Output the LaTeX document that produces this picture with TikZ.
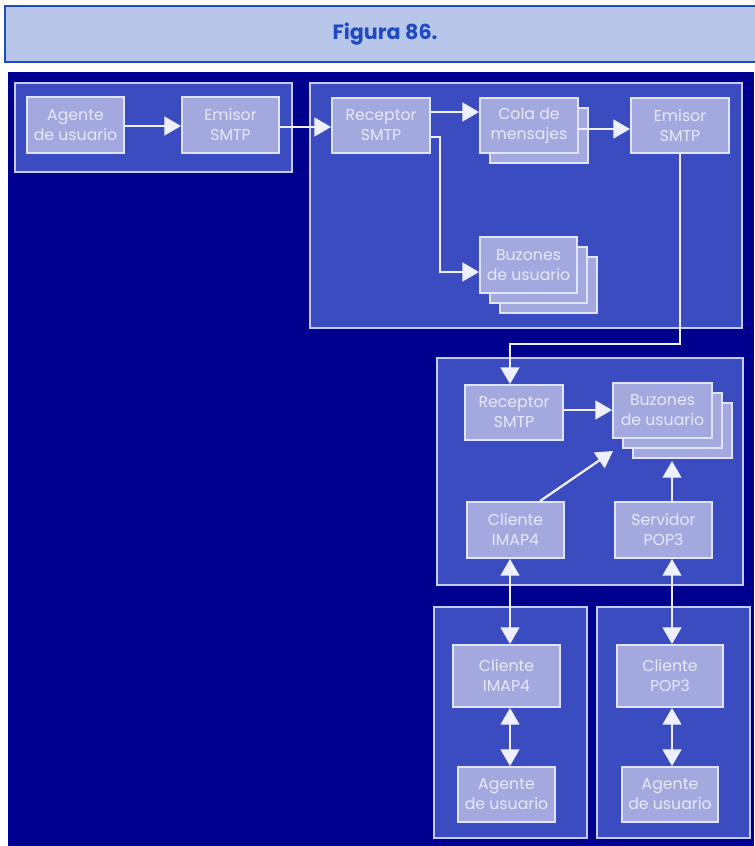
\documentclass[tikz,border=0pt]{standalone}
\usepackage{fontspec}
\setmainfont{Poppins}
\usetikzlibrary{arrows.meta,fit,positioning}
\definecolor{navy}{HTML}{00008E}
\definecolor{framefill}{HTML}{3B4BC0}
\definecolor{frameline}{HTML}{C4CAF2}
\definecolor{boxfill}{HTML}{A3A9DE}
\definecolor{boxline}{HTML}{E0E4FA}
\definecolor{txt}{HTML}{E6E9FB}
\definecolor{titlefill}{HTML}{B8C6EA}
\definecolor{titleline}{HTML}{1E4BC0}
\definecolor{arr}{HTML}{EEF0FF}
\begin{document}
\begin{tikzpicture}[x=0.75pt,y=-0.75pt,
  sz/.style 2 args={minimum width=#1*0.75pt,minimum height=#2*0.75pt},
  frame/.style={draw=frameline,fill=framefill,line width=1.6pt,inner sep=0pt},
  box/.style={draw=boxline,fill=boxfill,line width=1.4pt,inner sep=0pt,align=center,
    text=txt,font=\fontsize{11.8}{15}\selectfont},
  boxsh/.style={draw=boxline,fill=boxfill,line width=1.4pt},
  tip/.tip={Triangle[length=12.5pt,width=14pt]},
  conn/.style={draw=arr,line width=1.7pt,-tip},
  bidir/.style={draw=arr,line width=1.7pt,tip-tip},
  plain/.style={draw=arr,line width=1.7pt}]
\useasboundingbox (0,0) rectangle (754,846);
\fill[white] (0,0) rectangle (754,846);
% title bar
\node[draw=titleline,fill=titlefill,line width=2.2pt,inner sep=0pt,sz={760}{56},
  text=titleline,font=\fontsize{15.5}{18}\selectfont\bfseries] (title) at (385,34) {Figura 86.};
% navy background
\fill[navy] (8,72) rectangle (754,846);
% frames
\node[frame,fit={(15,83) (292,172)}] (f1) {};
\node[frame,fit={(310,83) (742,328)}] (f2) {};
\node[frame,fit={(437,358) (743,585)}] (f3) {};
\node[frame,fit={(434,607) (587,838)}] (f4) {};
\node[frame,fit={(597,607) (750,838)}] (f5) {};
% frame 1
\node[box,sz={97}{56}] (ag1) at (75.5,125) {Agente\\de usuario};
\node[box,sz={97}{56}] (em1) at (230.5,125) {Emisor\\SMTP};
% frame 2
\node[box,sz={98}{55}] (re2) at (381,125.5) {Receptor\\SMTP};
\draw[boxsh] (490,108) rectangle (588,163);
\node[box,sz={98}{55}] (cola) at (529,125.5) {Cola de\\mensajes};
\node[box,sz={98}{55}] (em2) at (680,125.5) {Emisor\\SMTP};
\draw[boxsh] (500,257) rectangle (597,313);
\draw[boxsh] (490,247) rectangle (587,303);
\node[box,sz={97}{56}] (bu2) at (528.5,265) {Buzones\\de usuario};
% frame 3
\node[box,sz={98}{55}] (re3) at (514,412.5) {Receptor\\SMTP};
\draw[boxsh] (633,403) rectangle (732,458);
\draw[boxsh] (623,393) rectangle (722,448);
\node[box,sz={99}{55}] (bu3) at (662.5,410.5) {Buzones\\de usuario};
\node[box,sz={97}{56}] (ci3) at (515.5,530) {Cliente\\IMAP4};
\node[box,sz={97}{56}] (sp3) at (663.5,530) {Servidor\\POP3};
% frame 4 and 5
\node[box,sz={107}{62}] (ci4) at (506.5,676) {Cliente\\IMAP4};
\node[box,sz={97}{55}] (ag4) at (506.5,794.5) {Agente\\de usuario};
\node[box,sz={106}{62}] (cp5) at (670,676) {Cliente\\POP3};
\node[box,sz={96}{55}] (ag5) at (670,794.5) {Agente\\de usuario};
% coordinates for routing
\coordinate (bend1) at (440,137);
\coordinate (bend2) at (440,272);
\coordinate (bend3) at (680,344);
\coordinate (bend4) at (510,344);
\coordinate (diagtip) at (613,451);
% connectors
\draw[conn] (ag1.east |- 0,126) -- (em1.west |- 0,126);
\draw[conn] (em1.east |- 0,127) -- (re2.west |- 0,127);
\draw[conn] (re2.east |- 0,112) -- (cola.west |- 0,112);
\draw[conn] (cola.east |- 0,129) -- (em2.west |- 0,129);
\draw[conn] (re2.east |- bend1) -- (bend1) -- (bend2) -- (bu2.west |- bend2);
\draw[conn] (em2.south -| bend3) -- (bend3) -- (bend4) -- (re3.north -| bend4);
\draw[conn] (re3.east |- 0,410) -- (bu3.west |- 0,410);
\draw[conn] (ci3.north -| 540,0) -- (diagtip);
\draw[conn] (sp3.north -| 672,0) -- (672,461);
\draw[bidir] (ci3.south -| 510,0) -- (ci4.north -| 510,0);
\draw[bidir] (sp3.south -| 672,0) -- (cp5.north -| 672,0);
\draw[bidir] (ci4.south -| 510,0) -- (ag4.north -| 510,0);
\draw[bidir] (cp5.south -| 672,0) -- (ag5.north -| 672,0);
\end{tikzpicture}
\end{document}
